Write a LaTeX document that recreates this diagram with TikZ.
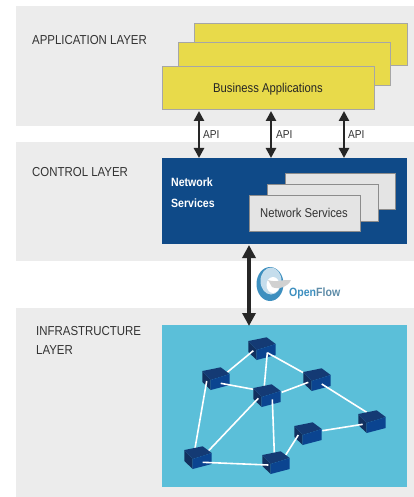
\documentclass[tikz,border=0pt]{standalone}
\usepackage{fontspec}
\setmainfont[FakeStretch=0.88]{Liberation Sans}
\usetikzlibrary{arrows.meta}
\definecolor{bandgray}{HTML}{ECECEC}
\definecolor{appyellow}{HTML}{E8DA4A}
\definecolor{ctrlblue}{HTML}{0F4A88}
\definecolor{infracyan}{HTML}{5BBFD9}
\definecolor{svcgray}{HTML}{E4E4E4}
\definecolor{swfront}{HTML}{0B4490}
\definecolor{swtop}{HTML}{143A74}
\definecolor{swleft}{HTML}{12305F}
\definecolor{ofblue}{HTML}{3D8FBF}
\definecolor{ofgray}{HTML}{5E8CA8}
\tikzset{
    band/.style={fill=bandgray, draw=none},
    layerlabel/.style={anchor=north west, align=left, inner sep=0pt, text=black!80, font=\fontsize{13}{19}\selectfont},
    appbox/.style={fill=appyellow, draw=black!35, line width=0.8pt},
    svcbox/.style={fill=svcgray, draw=black!45, line width=0.8pt},
    apiarrow/.style={black!85, line width=2.6pt, {Triangle[length=10pt,width=10pt]}-{Triangle[length=10pt,width=10pt]}},
    bigarrow/.style={black!85, line width=3.6pt, {Triangle[length=13pt,width=13pt]}-{Triangle[length=13pt,width=13pt]}},
    apilabel/.style={anchor=west, text=black!80, inner sep=0pt, font=\fontsize{11.5}{12}\selectfont},
    link/.style={white, line width=1.6pt},
    switchnode/.style={minimum width=28pt, minimum height=22pt, inner sep=0pt}
}
% port of a switch, as an offset from its centre
\newcommand{\port}[3]{([shift={(#2,#3)}]#1.center)}
% #1: name of the switch node
\newcommand{\drawSwitch}[1]{
    \begin{scope}[shift={(#1.center)}]
        \fill[swleft] (-13.7,-8) -- (-5.3,1) -- (-5.3,11) -- (-13.7,3) -- cycle;
        \fill[swtop] (-13.7,-8) -- (4.7,-11.7) -- (13.7,-5) -- (-5.3,1) -- cycle;
        \fill[swfront] (-5.3,1) -- (13.7,-5) -- (13.7,6) -- (-5.3,11) -- cycle;
    \end{scope}
}
\begin{document}
\begin{tikzpicture}[x=1pt, y=-1pt]
\useasboundingbox (0,0) rectangle (414,497);

% --- LAYERS ---
\fill[band] (16,6) rectangle (414,126);
\fill[band] (16,142) rectangle (414,261);
\fill[band] (16,308) rectangle (414,497);

\node[layerlabel] (applabel) at (32,35) {APPLICATION LAYER};
\node[layerlabel] (ctrllabel) at (32,167) {CONTROL LAYER};
\node[layerlabel] (infralabel) at (36,326) {INFRASTRUCTURE\\LAYER};

% --- APPLICATIONS ---
\draw[appbox] (194,23) rectangle (407,65);
\draw[appbox] (178,42) rectangle (390,85);
\draw[appbox] (162,66) rectangle (374,109);
\node[text=black!85, font=\fontsize{12.8}{14}\selectfont] (business) at (268,89) {Business Applications};

% --- CONTROL ---
\fill[ctrlblue] (162,158) rectangle (407,244);
\node[anchor=north west, align=left, inner sep=0pt, text=white, font=\bfseries\fontsize{12}{20.5}\selectfont] (netlabel) at (171,178) {Network\\Services};
\draw[svcbox] (285,173) rectangle (395,209);
\draw[svcbox] (267,184) rectangle (378,221);
\draw[svcbox] (249,195) rectangle (360,231);
\node[text=black!80, font=\fontsize{12.8}{14}\selectfont] (services) at (304,213) {Network Services};

% --- INFRASTRUCTURE ---
\fill[infracyan] (162,325) rectangle (407,487);

% --- ARROWS ---
\coordinate (api1top) at (199,111);
\coordinate (api1bot) at (199,158);
\coordinate (api2top) at (271,111);
\coordinate (api2bot) at (271,158);
\coordinate (api3top) at (344,111);
\coordinate (api3bot) at (344,158);
\coordinate (oftop) at (249,245);
\coordinate (ofbot) at (249,326);
\draw[apiarrow] (api1top) -- (api1bot);
\draw[apiarrow] (api2top) -- (api2bot);
\draw[apiarrow] (api3top) -- (api3bot);
\draw[bigarrow] (oftop) -- (ofbot);
\node[apilabel] (api1) at (203,135) {API};
\node[apilabel] (api2) at (276,135) {API};
\node[apilabel] (api3) at (348,135) {API};

% --- OPENFLOW LOGO ---
\fill[ofblue] (270,284) ellipse (13.5 and 17);
\fill[ofblue!30!white] (271,281) ellipse (10.5 and 13.5);
\fill[white] (273,285) ellipse (6.5 and 8);
\fill[black!18] (268,280) .. controls (276,283) and (284,279) .. (291,280) .. controls (288,287) and (278,290) .. (272,287) -- cycle;
\node[anchor=west, inner sep=0pt, font=\bfseries\fontsize{12}{13}\selectfont] (oflabel) at (289,293) {\textcolor{ofblue}{Open}\textcolor{ofgray}{Flow}};

% --- SWITCHES ---
\node[switchnode] (sa) at (262,349) {};
\node[switchnode] (sb) at (216,379) {};
\node[switchnode] (sc) at (267,396) {};
\node[switchnode] (sd) at (317,380) {};
\node[switchnode] (se) at (372,422) {};
\node[switchnode] (sf) at (308,434) {};
\node[switchnode] (sg) at (198,458) {};
\node[switchnode] (sh) at (276,463) {};

% --- LINKS, drawn between the switches so each end lies over or under ---
\drawSwitch{sa}
\draw[link] \port{sa}{-8.7}{1.7} -- \port{sb}{10.7}{-6.3};
\draw[link] \port{sa}{5.3}{3.7} -- \port{sc}{-2.7}{-10};
\draw[link] \port{sa}{5.3}{3.7} -- \port{sd}{-13.7}{-7.3};
\drawSwitch{sb}
\draw[link] \port{sb}{4.7}{4.3} -- \port{sc}{-13.7}{-6.7};
\draw[link] \port{sb}{-9.3}{2} -- \port{sg}{-3}{-9.7};
\drawSwitch{sd}
\draw[link] \port{sd}{-8.7}{2.3} -- \port{sc}{14.7}{-3.7};
\draw[link] \port{sd}{4.7}{4} -- \port{se}{-5.3}{-9.7};
\drawSwitch{sc}
\draw[link] \port{sc}{-8.7}{2.3} -- \port{sg}{10.3}{-7};
\draw[link] \port{sc}{5.3}{3.3} -- \port{sh}{-1.7}{-10.3};
\drawSwitch{se}
\draw[link] \port{se}{-9.3}{2.3} -- \port{sf}{14.3}{-3.3};
\drawSwitch{sf}
\draw[link] \port{sf}{-9.7}{1} -- \port{sh}{9.7}{-8};
\drawSwitch{sg}
\drawSwitch{sh}
\draw[link] \port{sg}{4.7}{4.3} -- \port{sh}{-7.7}{2};
\end{tikzpicture}
\end{document}
